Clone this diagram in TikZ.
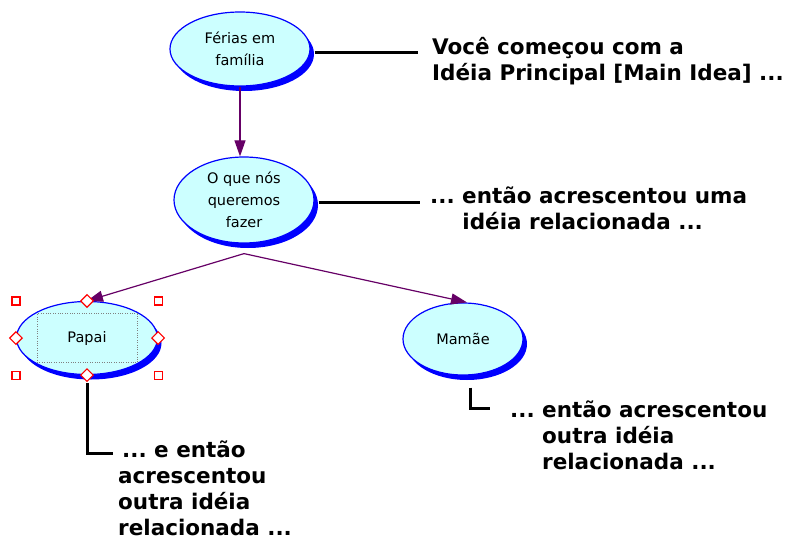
\documentclass[tikz,border=0pt]{standalone}
\usepackage{fontspec}
\setmainfont{DejaVu Sans}
\usetikzlibrary{shapes.geometric, arrows.meta, shadows}

\definecolor{ideafill}{RGB}{204,255,255}
\definecolor{ideablue}{RGB}{0,0,255}
\definecolor{linkpurple}{RGB}{102,0,102}
\definecolor{handlered}{RGB}{255,0,0}

\begin{document}
\begin{tikzpicture}[
    x = 1pt, y = -1pt,
    idea/.style = {ellipse,
      draw = ideablue, line width = 1.2pt, fill = ideafill,
      inner sep = 0pt, align = center,
      font = \fontsize{14.5}{22}\selectfont,
      drop shadow = {shadow xshift = 4pt, shadow yshift = -5pt,
        fill = ideablue, opacity = 1}},
    link/.style = {linkpurple, line width = 1.2pt,
      -{Triangle[length = 16pt, width = 11pt]}},
    callout/.style = {black, line width = 3pt},
    note/.style = {anchor = base west, align = left, inner sep = 0pt,
      font = \frenchspacing\bfseries\fontsize{21.5}{26}\selectfont},
    corner/.style = {draw = handlered, fill = white, line width = 1.2pt,
      minimum size = 8pt, inner sep = 0pt},
    tip/.style = {diamond, draw = handlered, fill = white, line width = 1.2pt,
      minimum size = 13pt, inner sep = 0pt}
    ]
    \useasboundingbox (0, 0) rectangle (786, 540);

    \node at (240, 49) [idea, minimum width = 140pt, minimum height = 74pt, name = main] {Férias em\\família};
    \node at (244, 200) [idea, minimum width = 140pt, minimum height = 86pt, name = want] {O que nós\\queremos\\fazer};
    \node at (87, 338) [idea, minimum width = 141pt, minimum height = 73pt, name = dad] {Papai};
    \node at (463, 339) [idea, minimum width = 120pt, minimum height = 72pt, name = mom] {Mamãe};

    % base anchor sits on the last line
    \node at (432, 81) [note, name = youstart] {Você começou com a\\Idéia Principal [Main Idea] ...};
    \node at (430, 229) [note, name = addone] {... então acrescentou uma\\\hspace*{1.5em}idéia relacionada ...};
    \node at (118, 535) [note, name = adddad] {\hspace*{4pt}... e então\\acrescentou\\outra idéia\\relacionada ...};
    \node at (510, 469) [note, name = addmom] {... então acrescentou\\\phantom{...\ }outra idéia\\\phantom{...\ }relacionada ...};

    \draw [link] (main.south) -- (main.south |- want.north);
    \draw [link] ([yshift = -10pt]want.south) -- (dad.north);
    \draw [link] ([yshift = -10pt]want.south) -- ([xshift = 4pt]mom.north);

    \coordinate (mainend) at (418, 53);
    \coordinate (wantend) at (420, 202);
    \coordinate (dadend) at (113, 453);
    \coordinate (momend) at (490, 408);
    \draw [callout] ([xshift = 4pt]main.east |- mainend) -- (mainend);
    \draw [callout] ([xshift = 4pt]want.east |- wantend) -- (wantend);
    \draw [callout] ([yshift = -8pt]dad.south) -- (dad.south |- dadend) -- (dadend);
    \draw [callout] ([xshift = 7pt, yshift = -12pt]mom.south) -- ([xshift = 7pt]mom.south |- momend) -- (momend);

    % selection around Papai
    \node at (dad.center) [draw = gray, dotted, minimum width = 100pt, minimum height = 49pt, name = dadsel] {};
    \foreach \hx/\hy in {west/north, east/north, west/south, east/south}
      \node at (dad.\hx |- dad.\hy) [corner, name = dad-\hx-\hy] {};
    \foreach \side in {north, south, east, west}
      \node at (dad.\side) [tip, name = dad-\side] {};

  \end{tikzpicture}
\end{document}
